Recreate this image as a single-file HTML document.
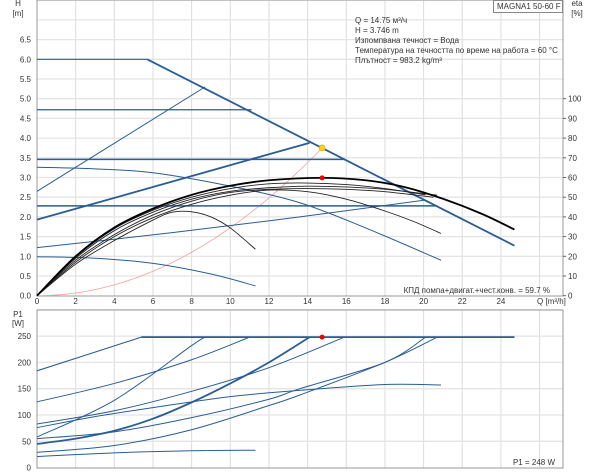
<!DOCTYPE html>
<html><head><meta charset="utf-8"><style>
html,body{margin:0;padding:0;background:#fff;}
svg{display:block;font-family:"Liberation Sans",sans-serif;}
</style></head><body>
<svg id="s" width="600" height="474" viewBox="0 0 600 474" xmlns="http://www.w3.org/2000/svg">
<g id="grid"></g><g id="curves"></g><g id="txt" font-size="8" fill="#333"></g>
</svg>
<script>
const NS="http://www.w3.org/2000/svg";
const X=q=>37+19.33*q, Y=h=>295.7-39.4*h, YP=p=>467.6-0.526*p;
function el(par,tag,a,t){const e=document.createElementNS(NS,tag);for(const k in a)e.setAttribute(k,a[k]);if(t!==undefined)e.textContent=t;document.getElementById(par).appendChild(e);return e;}
function line(par,x1,y1,x2,y2,c,w){el(par,'line',{x1,y1,x2,y2,stroke:c,'stroke-width':w});}
function txt(x,y,t,anchor,size){el('txt','text',{x,y,'text-anchor':anchor||'start','font-size':size||8},t);}
for(let q=0;q<=26;q+=2){line('grid',X(q),0,X(q),296,'#dcdcdc',1);line('grid',X(q),310,X(q),468,'#dcdcdc',1);}
for(let h=0.5;h<=7.5;h+=0.5)line('grid',37,Y(h),563,Y(h),'#e4e4e4',1.3);
for(let p=50;p<=300;p+=50)line('grid',37,YP(p),563,YP(p),'#e4e4e4',1.3);
el('grid','rect',{x:37,y:0,width:526,height:296,fill:'none',stroke:'#999','stroke-width':1});
el('grid','rect',{x:37,y:310,width:526,height:158,fill:'none',stroke:'#999','stroke-width':1});
for(let h=0;h<=6.5;h+=0.5)txt(31,Y(h)+3,h.toFixed(1),'end');
for(let q=0;q<=24;q+=2){txt(X(q),304,String(q),'middle');}
txt(537,304,'Q [m³/h]');
txt(18,6,'H','middle');txt(18,16,'[m]','middle');
txt(577,6,'eta','middle');txt(577,16,'[%]','middle');
for(let e=0;e<=100;e+=10){line('grid',563,Y(e/20),566,Y(e/20),'#666',1);txt(568,Y(e/20)+3,String(e));}
for(let p=0;p<=250;p+=50)txt(31,YP(p)+3,String(p),'end');
txt(18,317,'P1','middle');txt(18,326,'[W]','middle');
el('grid','rect',{x:493.5,y:0.5,width:69,height:12,fill:'#fff',stroke:'#888'});
txt(497,9,'MAGNA1 50-60 F');
const info=['Q = 14.75 м³/ч','H = 3.746 m','Изпомпвана течност = Вода','Температура на течността по време на работа = 60 °C','Плътност = 983.2 kg/m³'];
info.forEach((t,i)=>txt(355,23+i*10,t));
txt(550,293,'КПД помпа+двигат.+чест.конв. = 59.7 %','end');
txt(555,465,'P1 = 248 W','end');
function path(pts,yf,c,w){const P=pts.map(p=>[X(p[0]),yf(p[1])]);let d='M'+P[0][0]+','+P[0][1];
for(let i=0;i<P.length-1;i++){const p0=P[i-1]||P[i],p1=P[i],p2=P[i+1],p3=P[i+2]||p2;
d+=` C${p1[0]+(p2[0]-p0[0])/6},${p1[1]+(p2[1]-p0[1])/6} ${p2[0]-(p3[0]-p1[0])/6},${p2[1]-(p3[1]-p1[1])/6} ${p2[0]},${p2[1]}`;}
el('curves','path',{d,fill:'none',stroke:c,'stroke-width':w,'stroke-linejoin':'round'});}
const B='#2a5d94';
let sc=[];for(let q=0;q<=14.75;q+=0.75)sc.push([q,0.01724*q*q]);sc.push([14.75,3.75]);path(sc,Y,'#f5a0a0',0.8);
path([[0,6],[5.7,6]],Y,B,1.2);path([[5.7,6],[24.7,1.27]],Y,B,1.8);
path([[0,2.65],[8.7,5.3]],Y,B,1);
path([[0,4.72],[11.1,4.72]],Y,B,1.2);
path([[0,1.93],[14.1,3.88]],Y,B,1.8);
path([[0,3.46],[15.9,3.46]],Y,B,1.6);
path([[0,3.26],[3,3.22],[6,3.12],[10,2.78],[13.6,2.36],[17,1.72],[20.9,0.9]],Y,B,1);
path([[0,2.28],[20.7,2.28]],Y,B,1.4);
path([[0,1.22],[7,1.6],[13.6,2.0],[20.1,2.43]],Y,B,1);
path([[0,0.99],[3,0.95],[6,0.82],[9,0.55],[11.3,0.25]],Y,B,1);
const K='#222';
path([[0,0],[2,0.8],[4,1.4],[6,1.92],[7,2.12],[8,2.13],[9,2.0],[10,1.72],[11.3,1.18]],Y,K,0.9);
path([[0,0],[2,0.85],[4,1.5],[6,1.98],[8,2.32],[10,2.55],[12,2.68],[14,2.64],[16,2.45],[18,2.15],[19.5,1.88],[20.9,1.58]],Y,K,0.9);
path([[0,0],[2,0.9],[4,1.55],[6,2.05],[8,2.4],[10,2.62],[12,2.7],[14,2.72],[16,2.7],[18,2.64],[20.5,2.5]],Y,K,0.9);
path([[0,0],[2,0.95],[4,1.65],[6,2.12],[8,2.45],[10,2.65],[12,2.74],[14,2.78],[16,2.76],[18,2.7],[20.7,2.55]],Y,K,0.9);
path([[0,0],[2,0.98],[4,1.7],[6,2.17],[8,2.5],[10,2.72],[12,2.84],[14,2.86],[16,2.82],[18,2.72],[20.1,2.56]],Y,K,0.9);
path([[0,0],[2,1.0],[4,1.73],[6,2.21],[8,2.56],[10,2.79],[12,2.93],[14.75,2.99],[17,2.93],[19,2.76],[21,2.46],[23,2.08],[24.7,1.68]],Y,'#000',1.8);
el('curves','circle',{cx:X(14.75),cy:Y(3.75),r:3,fill:'#ffd400',stroke:'#e0a000','stroke-width':0.6});
el('curves','circle',{cx:X(14.75),cy:Y(2.99),r:2.5,fill:'#e00'});
path([[0,184],[5.4,248]],YP,B,1.1);path([[5.4,248],[24.7,248]],YP,B,1.8);
path([[0,125],[4,160],[8,205],[11,248]],YP,B,1);
path([[0,58],[4,128],[8,232],[8.7,248]],YP,B,1);
path([[0,45],[2,55],[4,70],[6,93],[8,124],[10,160],[12,200],[14.1,248]],YP,B,1.8);
path([[0,83],[4,108],[8,145],[12,190],[15.9,248]],YP,B,1);
path([[0,76],[3,97],[6,114],[10,135],[14,148],[18,158],[20.9,157]],YP,B,1);
path([[0,55],[4,68],[8,95],[12,130],[13.6,150],[18,200],[20.1,248]],YP,B,1);
path([[0,29],[4,42],[8,72],[12,118],[13.6,138],[18,200],[20.7,248]],YP,B,1);
path([[0,21],[4,28],[8,32],[11.3,33]],YP,B,1);
el('curves','circle',{cx:X(14.75),cy:YP(248),r:2.5,fill:'#e00'});
</script>
</body></html>
